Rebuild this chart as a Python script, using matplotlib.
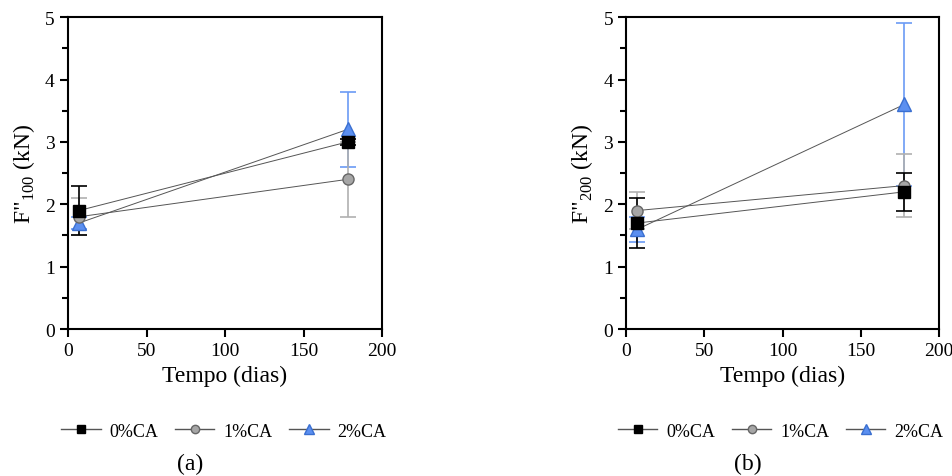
import matplotlib
matplotlib.use('Agg')
import matplotlib.pyplot as plt
import matplotlib.ticker as ticker

plt.rcParams['font.family'] = ['Liberation Serif', 'DejaVu Serif']
plt.rcParams['mathtext.fontset'] = 'custom'
plt.rcParams['mathtext.rm'] = 'Liberation Serif'

tempo = [7, 178]
series_names = ['0%CA', '1%CA', '2%CA']

# (a) F''100
f100 = {'0%CA': [1.9, 3.0], '1%CA': [1.8, 2.4], '2%CA': [1.7, 3.2]}
f100_err = {'0%CA': [0.4, 0.05], '1%CA': [0.3, 0.6], '2%CA': [0.1, 0.6]}

# (b) F''200
f200 = {'0%CA': [1.7, 2.2], '1%CA': [1.9, 2.3], '2%CA': [1.6, 3.6]}
f200_err = {'0%CA': [0.4, 0.3], '1%CA': [0.3, 0.5], '2%CA': [0.2, 1.3]}

styles = {
    '0%CA': dict(marker='s', mfc='black', mec='black', ecolor='black', ms=8),
    '1%CA': dict(marker='o', mfc='#a6a6a6', mec='#666666', ecolor='#b0b0b0', ms=8),
    '2%CA': dict(marker='^', mfc='#5b8ff0', mec='#3a6fd0', ecolor='#6b9bf5', ms=10),
}
order = {'0%CA': 3, '1%CA': 2, '2%CA': 1}


def draw(ax, data, err, label, caption, cx):
    for name in series_names:
        st = styles[name]
        ax.errorbar(tempo, data[name], yerr=err[name], fmt='none',
                    ecolor=st['ecolor'], elinewidth=1.2, capsize=6,
                    capthick=1.2, zorder=order[name])
        ax.plot(tempo, data[name], color='#555555', linewidth=0.7,
                marker=st['marker'], mfc=st['mfc'], mec=st['mec'],
                markersize=st['ms'], zorder=order[name] + 3, label=name)
    ax.set_xlim(0, 200)
    ax.set_ylim(0, 5)
    ax.xaxis.set_major_locator(ticker.MultipleLocator(50))
    ax.yaxis.set_major_locator(ticker.MultipleLocator(1))
    ax.yaxis.set_minor_locator(ticker.MultipleLocator(0.5))
    ax.tick_params(which='major', direction='out', length=6, width=1.5,
                   labelsize=14)
    ax.tick_params(which='minor', direction='out', length=4, width=1.5)
    for sp in ax.spines.values():
        sp.set_linewidth(1.5)
    ax.set_xlabel('Tempo (dias)', fontsize=17)
    ax.set_ylabel(label, fontsize=17, labelpad=6)

    handles = []
    for name in series_names:
        st = styles[name]
        h, = ax.plot([], [], color='#555555', linewidth=1,
                     marker=st['marker'], mfc=st['mfc'], mec=st['mec'],
                     markersize=6 if st['marker'] != '^' else 7)
        handles.append(h)
    fig.legend(handles, series_names, loc='center', bbox_to_anchor=(cx, 0.094),
               ncol=3, frameon=False, fontsize=13, handlelength=2.2,
               handletextpad=0.5, columnspacing=0.9)
    fig.text(cx - 0.035, 0.027, caption, ha='center', va='center', fontsize=17)


fig = plt.figure(figsize=(9.52, 4.77), dpi=100)
ax1 = fig.add_axes([0.0714, 0.308, 0.33, 0.654])
ax2 = fig.add_axes([0.658, 0.308, 0.328, 0.654])

draw(ax1, f100, f100_err, "F\"$_{100}$ (kN)", '(a)', 0.235)
draw(ax2, f200, f200_err, "F\"$_{200}$ (kN)", '(b)', 0.82)

fig.savefig('out.png', dpi=100)
